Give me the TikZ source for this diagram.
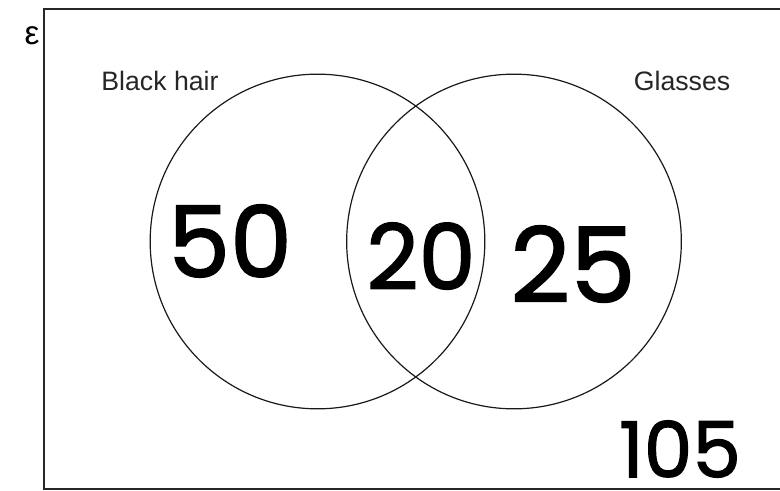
\documentclass[tikz,border=0pt]{standalone}
\usepackage{fontspec}
\setmainfont{Liberation Sans}
\newfontfamily\handfont[FakeBold=1.6]{Poppins}
\usetikzlibrary{positioning}
\tikzset{
	setframe/.style={draw=black!85, line width=1.3pt},
	setcircle/.style={circle, draw=black!90, line width=0.9pt, minimum size=251pt, inner sep=0pt},
	setlabel/.style={font=\fontsize{20}{24}\selectfont, text=black!85, anchor=base, inner sep=0pt},
	countnum/.style={font=\handfont\fontsize{74}{80}\selectfont, inner sep=0pt}
}

\begin{document}
\begin{tikzpicture}[x=0.75pt, y=-0.75pt]
	\useasboundingbox (0,0) rectangle (780,491);
	\clip (0,0) rectangle (780,491);
	% universal set
	\draw[setframe] (44,9) rectangle (800,489);
	\node[font=\fontsize{25}{28}\selectfont] (eps) at (32,36) {ε};
	% the two sets
	\node[setcircle] (hair) at (317.5,241.5) {};
	\node[setcircle] (glasses) at (514,241.5) {};
	\node[setlabel] (hairlbl) at (160,91) {Black hair};
	\node[setlabel] (glasseslbl) at (682,91) {Glasses};
	% counts
	\node[countnum] (onlyhair) at (230,241) {50};
	\node[countnum, font=\handfont\fontsize{68}{74}\selectfont] (both) at (421,256) {20};
	\node[countnum, font=\handfont\fontsize{78}{84}\selectfont] (onlyglasses) at (573,264) {25};
	\node[countnum, font=\handfont\fontsize{58}{64}\selectfont] (neither) at (680,449) {105};
\end{tikzpicture}
\end{document}
